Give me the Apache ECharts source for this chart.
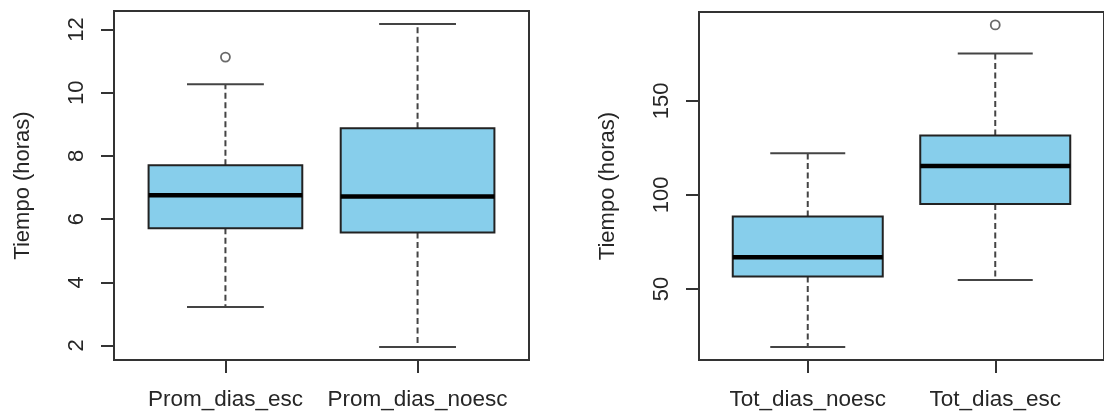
<!DOCTYPE html>
<html>
<head>
<meta charset="utf-8">
<script src="https://cdn.jsdelivr.net/npm/echarts@6/dist/echarts.min.js"></script>
<style>
  html, body { margin: 0; padding: 0; background: #fff; }
  #chart { width: 1104px; height: 415px; }
</style>
</head>
<body>
<div id="chart"></div>
<script>
// Daily hours, two panels of boxplots
const leftCategories = ['Prom_dias_esc', 'Prom_dias_noesc'];
// [lower whisker, Q1, median, Q3, upper whisker]
const leftStats = [
  [3.22, 5.71, 6.76, 7.71, 10.27],
  [1.95, 5.58, 6.72, 8.88, 12.18]
];
const leftOutliers = [[1, 11.13]];
const leftTicks = [2, 4, 6, 8, 10, 12];

const rightCategories = ['Tot_dias_noesc', 'Tot_dias_esc'];
const rightStats = [
  [19.2, 56.7, 66.9, 88.6, 122.1],
  [54.9, 95.2, 115.4, 131.6, 175.1]
];
const rightOutliers = [[2, 190.3]];
const rightTicks = [50, 100, 150];

const FONT = "'Liberation Sans', Arial, sans-serif";
const INK = '#333';
const TEXT = '#262626';

// y range padded 4% beyond the extremes, x range 0.5..n+0.5 padded likewise
function yRange(stats, outliers) {
  const vals = stats.flat().concat(outliers.map(o => o[1]));
  const lo = Math.min(...vals), hi = Math.max(...vals);
  const pad = (hi - lo) * 0.04;
  return [lo - pad, hi + pad];
}
function xRange(n) {
  const pad = n * 0.04;
  return [0.5 - pad, n + 0.5 + pad];
}

function renderBox(params, api) {
  const x = api.value(0);
  const lo = api.value(1), q1 = api.value(2), med = api.value(3), q3 = api.value(4), hi = api.value(5);
  const bw = 0.4, cw = 0.2;
  const tl = api.coord([x - bw, q3]);
  const br = api.coord([x + bw, q1]);
  const mL = api.coord([x - bw, med]);
  const mR = api.coord([x + bw, med]);
  const c = api.coord([x, lo]);
  const pHi = api.coord([x, hi]);
  const pQ1 = api.coord([x, q1]);
  const pQ3 = api.coord([x, q3]);
  const capLoL = api.coord([x - cw, lo]), capLoR = api.coord([x + cw, lo]);
  const capHiL = api.coord([x - cw, hi]), capHiR = api.coord([x + cw, hi]);
  const whisk = { stroke: '#444', lineWidth: 2, lineDash: [6, 3.5] };
  const cap = { stroke: '#444', lineWidth: 2 };
  return {
    type: 'group',
    children: [
      { type: 'line', shape: { x1: pQ3[0], y1: pQ3[1], x2: pHi[0], y2: pHi[1] }, style: whisk },
      { type: 'line', shape: { x1: pQ1[0], y1: pQ1[1], x2: c[0], y2: c[1] }, style: whisk },
      { type: 'line', shape: { x1: capHiL[0], y1: capHiL[1], x2: capHiR[0], y2: capHiR[1] }, style: cap },
      { type: 'line', shape: { x1: capLoL[0], y1: capLoL[1], x2: capLoR[0], y2: capLoR[1] }, style: cap },
      { type: 'rect', shape: { x: tl[0], y: tl[1], width: br[0] - tl[0], height: br[1] - tl[1] },
        style: { fill: '#87CEEB', stroke: '#222', lineWidth: 2 } },
      { type: 'line', shape: { x1: mL[0], y1: mL[1], x2: mR[0], y2: mR[1] },
        style: { stroke: '#000', lineWidth: 4.5 } }
    ]
  };
}

function xAxisFor(idx, cats) {
  const [mn, mx] = xRange(cats.length);
  const pos = cats.map((_, i) => i + 1);
  return {
    type: 'value', gridIndex: idx, min: mn, max: mx,
    splitLine: { show: false },
    axisLine: { show: false },
    axisTick: { show: true, customValues: pos, length: 13, lineStyle: { color: INK, width: 2 } },
    axisLabel: {
      customValues: pos, margin: 28, color: TEXT, fontFamily: FONT, fontSize: 22.5,
      formatter: v => cats[Math.round(v) - 1] || ''
    }
  };
}

function yAxisFor(idx, stats, outliers, ticks) {
  const [mn, mx] = yRange(stats, outliers);
  return {
    type: 'value', gridIndex: idx, min: mn, max: mx,
    splitLine: { show: false },
    axisLine: { show: false },
    axisTick: { show: true, customValues: ticks, length: 13, lineStyle: { color: INK, width: 2 } },
    axisLabel: {
      customValues: ticks, rotate: 90, margin: 26, color: TEXT, fontFamily: FONT, fontSize: 22
    },
    name: 'Tiempo (horas)', nameLocation: 'middle', nameGap: 80,
    nameTextStyle: { color: TEXT, fontFamily: FONT, fontSize: 22 }
  };
}

const chart = echarts.init(document.getElementById('chart'), null, { renderer: 'canvas' });
chart.setOption({
  animation: false,
  backgroundColor: '#fff',
  grid: [
    { left: 114, top: 11, width: 415, height: 349, show: true, borderColor: INK, borderWidth: 2, containLabel: false },
    { left: 699, top: 12, width: 415, height: 348, show: true, borderColor: INK, borderWidth: 2, containLabel: false }
  ],
  xAxis: [xAxisFor(0, leftCategories), xAxisFor(1, rightCategories)],
  yAxis: [yAxisFor(0, leftStats, leftOutliers, leftTicks), yAxisFor(1, rightStats, rightOutliers, rightTicks)],
  series: [
    { type: 'custom', xAxisIndex: 0, yAxisIndex: 0, renderItem: renderBox, clip: false,
      data: leftStats.map((s, i) => [i + 1].concat(s)) },
    { type: 'scatter', xAxisIndex: 0, yAxisIndex: 0, symbol: 'circle', symbolSize: 9,
      itemStyle: { color: '#fff', borderColor: '#444', borderWidth: 1.8 }, data: leftOutliers },
    { type: 'custom', xAxisIndex: 1, yAxisIndex: 1, renderItem: renderBox, clip: false,
      data: rightStats.map((s, i) => [i + 1].concat(s)) },
    { type: 'scatter', xAxisIndex: 1, yAxisIndex: 1, symbol: 'circle', symbolSize: 9,
      itemStyle: { color: '#fff', borderColor: '#444', borderWidth: 1.8 }, data: rightOutliers }
  ]
});
</script>
</body>
</html>
